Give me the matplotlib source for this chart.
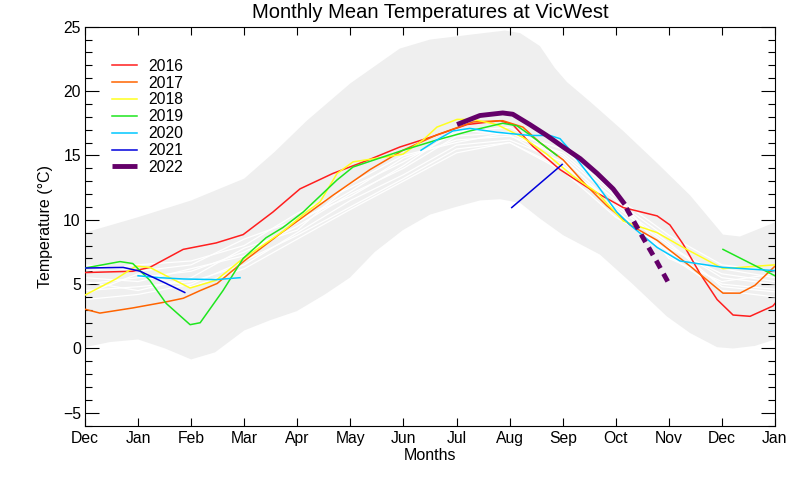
import matplotlib
matplotlib.use("Agg")
import matplotlib.pyplot as plt
import numpy as np

plt.rcParams["font.family"] = ["Liberation Sans", "DejaVu Sans"]

# x is in months from 1 Dec (0) to 1 Jan a year later (13)
month_labels = ["Dec", "Jan", "Feb", "Mar", "Apr", "May", "Jun",
                "Jul", "Aug", "Sep", "Oct", "Nov", "Dec", "Jan"]

# record envelope (grey band)
band_hi_x = [0, 1.0, 2.0, 3.0, 3.58, 4.18, 5.0, 5.93, 6.5, 7.5, 7.91, 8.2, 8.57, 8.85,
             9.08, 9.51, 10.14, 10.78, 11.4, 12.02, 12.34, 13.0]
band_hi = [9.0, 10.2, 11.5, 13.2, 15.3, 17.7, 20.6, 23.3, 24.0, 24.5, 24.7, 24.5, 23.5, 21.8,
           20.7, 19.2, 16.9, 14.4, 11.9, 8.85, 8.7, 9.8]
band_lo_x = [0, 0.47, 1.0, 1.51, 2.0, 2.45, 3.0, 3.49, 3.99, 4.52, 4.99, 5.46, 5.99, 6.5,
             6.99, 7.44, 7.82, 8.2, 8.57, 9.01, 9.7, 10.32, 10.96, 11.4, 11.91, 12.21, 12.62, 13.0]
band_lo = [0.1, 0.5, 0.7, 0.0, -0.85, -0.3, 1.4, 2.2, 2.9, 4.2, 5.5, 7.5, 9.2, 10.4,
           11.0, 11.5, 11.6, 11.3, 10.1, 8.8, 7.3, 5.0, 2.5, 1.2, 0.1, 0.0, 0.2, 0.7]

# earlier years (white)
hist_x = list(range(14))
hist = [
    [5.0, 5.5, 6.0, 7.5, 9.5, 12.0, 14.0, 16.5, 16.8, 14.8, 11.0, 8.0, 5.5, 5.0],
    [4.5, 4.8, 5.2, 6.5, 9.0, 11.5, 13.5, 15.8, 16.2, 14.5, 10.5, 7.5, 5.0, 4.6],
    [6.0, 6.5, 6.8, 8.0, 10.5, 12.5, 14.5, 16.8, 17.2, 15.0, 11.5, 8.5, 6.2, 5.5],
    [3.8, 4.2, 5.0, 6.8, 8.8, 11.0, 13.2, 15.5, 16.0, 14.0, 10.8, 7.2, 4.5, 4.0],
    [5.5, 5.2, 6.2, 7.2, 9.8, 12.2, 14.8, 16.2, 16.5, 15.2, 11.8, 8.8, 6.5, 6.0],
    [4.2, 5.8, 4.8, 6.2, 8.5, 10.8, 13.0, 15.2, 16.0, 13.8, 10.2, 7.8, 5.8, 5.2],
    [6.5, 6.0, 6.5, 8.5, 10.0, 11.8, 14.2, 17.0, 16.6, 14.2, 11.2, 8.2, 4.8, 4.4],
    [5.2, 4.5, 5.5, 7.8, 9.2, 12.8, 15.0, 16.0, 16.8, 15.5, 12.0, 7.0, 5.2, 5.8],
]

x2016 = [0, 0.9, 1.22, 1.85, 2.47, 2.98, 3.54, 4.05, 4.67, 5.31, 5.93, 6.5, 7.2, 7.82, 8.06,
         8.44, 8.95, 9.51, 10.14, 10.78, 11.02, 11.27, 11.59, 11.91, 12.21, 12.53, 12.96, 13.0]
y2016 = [5.9, 6.0, 6.3, 7.7, 8.2, 8.85, 10.6, 12.4, 13.6, 14.6, 15.65, 16.4, 17.4, 17.7, 17.4,
         15.7, 13.9, 12.4, 10.95, 10.3, 9.6, 8.1, 5.8, 3.8, 2.6, 2.5, 3.3, 3.5]

x2017 = [0, 0.28, 0.9, 1.5, 1.85, 2.17, 2.49, 3.0, 3.67, 4.67, 5.37, 5.99, 6.63, 7.31,
         7.87, 8.25, 8.57, 9.01, 9.46, 9.83, 10.27, 10.78, 11.4, 12.02, 12.34, 12.62, 13.0]
y2017 = [3.05, 2.75, 3.15, 3.6, 3.9, 4.5, 5.05, 6.8, 8.9, 11.9, 13.9, 15.4, 16.6, 17.6,
         17.7, 17.2, 16.0, 14.65, 12.6, 11.1, 9.6, 8.4, 6.4, 4.3, 4.3, 4.9, 6.4]

x2018 = [0, 0.58, 0.96, 1.22, 1.98, 2.47, 2.92, 3.73, 4.11, 4.43, 4.75, 5.05, 5.69, 5.99,
         6.37, 6.63, 7.01, 7.31, 7.76, 8.25, 8.70, 9.19, 9.65, 10.14, 10.78, 11.27, 12.02, 13.0]
y2018 = [4.15, 5.4, 6.4, 6.3, 4.7, 5.3, 6.8, 9.1, 10.4, 11.4, 13.6, 14.5, 14.9, 15.1,
         16.2, 17.2, 17.8, 17.8, 17.4, 16.4, 15.1, 13.4, 12.1, 9.9, 9.0, 7.85, 6.2, 6.5]

x2019 = [0, 0.66, 0.90, 1.22, 1.53, 1.98, 2.17, 2.6, 2.98, 3.41, 3.73, 4.11, 4.75, 5.05,
         5.99, 6.63, 7.25, 7.87, 8.14, 8.38, 8.89, np.nan, 12.02, 13.0]
y2019 = [6.25, 6.75, 6.6, 5.3, 3.5, 1.85, 2.0, 4.5, 7.0, 8.6, 9.4, 10.6, 13.1, 14.1,
         15.4, 16.2, 16.9, 17.5, 17.3, 16.6, 15.0, np.nan, 7.7, 5.65]

x2020 = [1.0, 1.41, 1.85, 2.47, 2.92, np.nan, 6.33, 6.63, 6.93, 7.25, 7.76, 8.38, 8.76, 8.95,
         9.14, 9.38, 9.65, 10.02, 10.27, 10.78, 11.21, 12.02, 13.0]
y2020 = [5.65, 5.5, 5.4, 5.35, 5.5, np.nan, 15.4, 16.2, 16.9, 17.1, 16.8, 16.55, 16.55, 16.3,
         15.4, 14.1, 12.7, 10.6, 9.6, 7.85, 6.8, 6.3, 6.05]

x2021 = [0, 0.72, 1.04, 1.22, 1.53, 1.88, np.nan, 8.04, 8.99]
y2021 = [6.25, 6.3, 6.0, 5.65, 5.05, 4.35, np.nan, 10.95, 14.3]

x2022 = [7.01, 7.44, 7.87, 8.06, 8.38, 8.70, 9.01, 9.33, 9.65, 9.95, 10.17]
y2022 = [17.4, 18.1, 18.3, 18.2, 17.4, 16.55, 15.65, 14.75, 13.6, 12.4, 11.2]
# forecast part of 2022 (dashed)
x2022f = [10.2, 10.5, 10.78, 10.98]
y2022f = [10.9, 8.7, 6.7, 5.2]

years = ["2016", "2017", "2018", "2019", "2020", "2021"]
xs = [x2016, x2017, x2018, x2019, x2020, x2021]
ys = [y2016, y2017, y2018, y2019, y2020, y2021]
colors = ["#ff1e1e", "#ff6400", "#ffff1e", "#1ee61e", "#00c8ff", "#0000dc"]
purple = "#640069"

fig = plt.figure(figsize=(8, 4.8), dpi=100)
ax = fig.add_axes([0.10625, 0.1131, 0.8625, 0.83125])

band_x = band_hi_x + band_lo_x[::-1]
band_y = band_hi + band_lo[::-1]
ax.fill(band_x, band_y, color="#efefef", lw=0, zorder=1)

for h in hist:
    ax.plot(hist_x, h, color="white", lw=0.9, zorder=2)

for yr, x, y, c in zip(years, xs, ys, colors):
    ax.plot(x, y, color=c, lw=1.1, label=yr, zorder=3)
ax.plot(x2022, y2022, color=purple, lw=3.5, label="2022", zorder=4,
        solid_capstyle="butt")
ax.plot(x2022f, y2022f, color=purple, lw=3.5, zorder=4, dashes=(1.8, 1.3))

ax.set_xlim(0, 13)
ax.set_ylim(-6, 25)
ax.set_xticks(range(14), month_labels)
ax.set_yticks([-5, 0, 5, 10, 15, 20, 25])
ax.set_yticks(np.arange(-6, 26, 1), minor=True)
ax.tick_params(axis="x", which="major", direction="in", length=5.5, width=0.8,
               top=True, labelsize=11.3, pad=4)
ax.tick_params(axis="y", which="major", direction="in", length=10, width=0.8,
               right=True, labelsize=11.3, pad=3)
ax.tick_params(axis="y", which="minor", direction="in", length=5, width=0.8, right=True)
ax.tick_params(axis="x", which="minor", bottom=False, top=False)
for s in ax.spines.values():
    s.set_linewidth(0.8)

ax.set_title("Monthly Mean Temperatures at VicWest", fontsize=14.5, pad=6.5)
ax.set_xlabel("Months", fontsize=11.5)
ax.set_ylabel("Temperature (°C)", fontsize=11.5)
ax.xaxis.set_label_coords(0.5, -0.055)
ax.yaxis.set_label_coords(-0.047, 0.5)

ax.legend(loc="upper left", bbox_to_anchor=(0.039, 0.920), frameon=False,
          fontsize=11.3, handlelength=1.6, handletextpad=0.7, labelspacing=0.12,
          borderpad=0, borderaxespad=0)

fig.savefig("out.png", dpi=100)
